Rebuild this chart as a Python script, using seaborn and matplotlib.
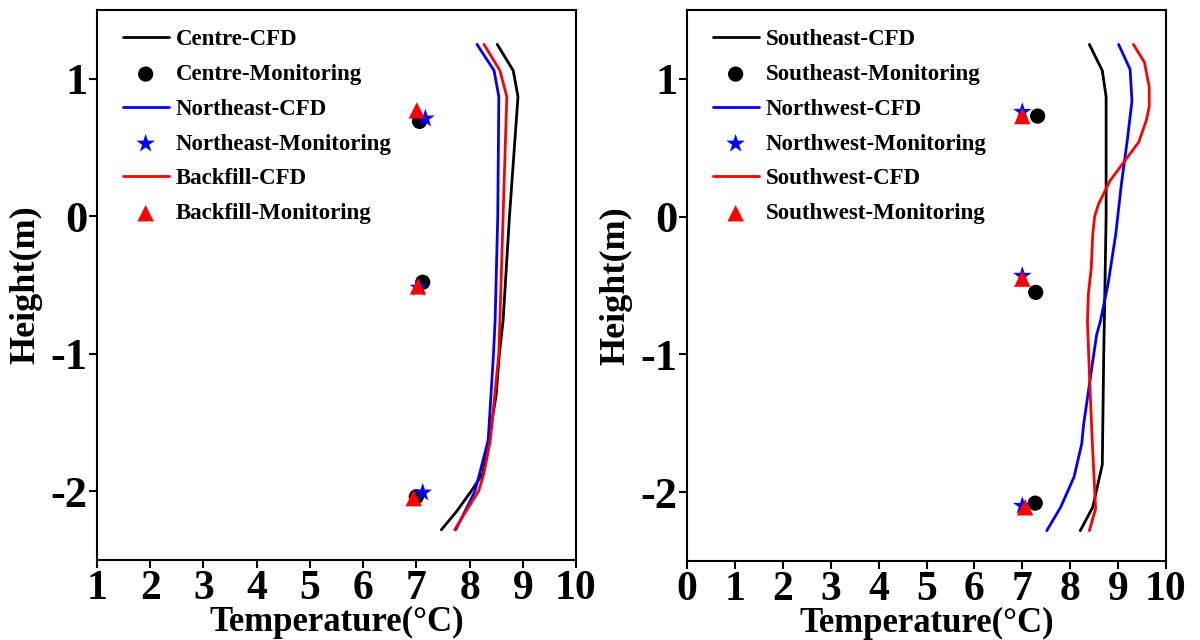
import numpy as np
import pandas as pd
import matplotlib
matplotlib.use("Agg")
import matplotlib.pyplot as plt
import seaborn as sns

sns.set_theme(style="white")
plt.rcParams['font.family'] = ['Liberation Serif', 'DejaVu Serif']
plt.rcParams['font.weight'] = 'bold'
plt.rcParams['text.color'] = 'black'
plt.rcParams['axes.labelcolor'] = 'black'
plt.rcParams['xtick.color'] = 'black'
plt.rcParams['ytick.color'] = 'black'

# ---------------- Left panel data ----------------
centre_cfd_t = [8.52, 8.82, 8.91, 8.75, 8.63, 8.56, 8.50, 8.36, 8.25, 8.03, 7.75, 7.47]
centre_cfd_h = [1.25, 1.06, 0.87, 0.00, -0.76, -1.00, -1.30, -1.63, -1.87, -2.00, -2.15, -2.28]
ne_cfd_t = [8.14, 8.46, 8.55, 8.53, 8.48, 8.45, 8.35, 8.19, 8.10, 7.96, 7.74]
ne_cfd_h = [1.25, 1.06, 0.87, 0.00, -0.76, -1.00, -1.63, -1.87, -2.00, -2.11, -2.28]
bf_cfd_t = [8.27, 8.57, 8.70, 8.63, 8.57, 8.55, 8.39, 8.27, 8.17, 7.99, 7.72]
bf_cfd_h = [1.25, 1.06, 0.87, 0.00, -0.76, -1.00, -1.63, -1.87, -2.00, -2.11, -2.28]

centre_mon_t = [7.06, 7.12, 7.00]
centre_mon_h = [0.69, -0.48, -2.04]
ne_mon_t = [7.17, 7.05, 7.12]
ne_mon_h = [0.71, -0.52, -2.01]
bf_mon_t = [7.01, 7.03, 6.95]
bf_mon_h = [0.77, -0.51, -2.05]

# ---------------- Right panel data ----------------
se_cfd_t = [8.40, 8.67, 8.75, 8.75, 8.72, 8.70, 8.67, 8.47, 8.21]
se_cfd_h = [1.25, 1.06, 0.87, 0.00, -0.61, -1.00, -1.80, -2.11, -2.28]
nw_cfd_t = [9.01, 9.25, 9.29, 9.19, 9.07, 8.95, 8.79, 8.63, 8.55, 8.40, 8.28, 8.24, 8.08, 7.80, 7.51]
nw_cfd_h = [1.25, 1.07, 0.84, 0.55, 0.24, -0.13, -0.49, -0.76, -0.86, -1.22, -1.51, -1.65, -1.89, -2.11, -2.28]
sw_cfd_t = [9.32, 9.55, 9.65, 9.65, 9.59, 9.43, 9.15, 8.83, 8.59, 8.51, 8.47, 8.44, 8.38, 8.36, 8.41, 8.47, 8.53, 8.40]
sw_cfd_h = [1.25, 1.12, 0.94, 0.80, 0.70, 0.54, 0.41, 0.26, 0.09, 0.00, -0.13, -0.37, -0.56, -0.76, -1.22, -1.70, -2.12, -2.28]

se_mon_t = [7.32, 7.28, 7.27]
se_mon_h = [0.73, -0.55, -2.08]
nw_mon_t = [7.00, 7.00, 7.00]
nw_mon_h = [0.76, -0.43, -2.10]
sw_mon_t = [7.00, 7.00, 7.06]
sw_mon_h = [0.73, -0.45, -2.11]

left_xticks = [1, 2, 3, 4, 5, 6, 7, 8, 9, 10]
right_xticks = [0, 1, 2, 3, 4, 5, 6, 7, 8, 9, 10]
yticks = [1, 0, -1, -2]

fig = plt.figure(figsize=(12, 6.4), dpi=100)
axL = fig.add_axes([97/1200, 1 - 560/640, 479/1200, 550/640])
axR = fig.add_axes([687/1200, 1 - 561/640, 479/1200, 551/640])

LW = 2.0


def draw(ax, lines, marks, xlim, xticks):
    for (t, h, color, label), (mt, mh, mcolor, marker, mlabel, msize) in zip(lines, marks):
        sns.lineplot(x=t, y=h, sort=False, estimator=None, color=color,
                     linewidth=LW, ax=ax, label=label)
        sns.scatterplot(x=mt, y=mh, color=mcolor, marker=marker, s=msize,
                        edgecolor='none', ax=ax, label=mlabel, zorder=5)
    hs, ls = ax.get_legend_handles_labels()
    leg = ax.legend(hs, ls, loc='upper left', bbox_to_anchor=(0.025, 0.99), frameon=False,
                    prop={'family': 'Liberation Serif', 'weight': 'bold', 'size': 16.5},
                    handlelength=2.0, labelspacing=0.6, handletextpad=0.3,
                    borderaxespad=0.2)
    for txt in leg.get_texts():
        txt.set_color('black')
    ax.set_xlim(*xlim)
    ax.set_ylim(-2.5, 1.5)
    ax.set_xticks(xticks)
    ax.set_yticks(yticks)
    ax.set_xticklabels([str(v) for v in xticks], fontsize=30, fontweight='bold')
    ax.set_yticklabels([str(v) for v in yticks], fontsize=32, fontweight='bold')
    ax.tick_params(axis='both', direction='out', length=6, width=1.5, color='black',
                   bottom=True, left=True, top=False, right=False, pad=1)
    ax.set_xlabel('Temperature(°C)', fontsize=25, fontweight='bold', labelpad=-1)
    ax.set_ylabel('Height(m)', fontsize=26, fontweight='bold', labelpad=6)
    for sp in ax.spines.values():
        sp.set_color('black')
        sp.set_linewidth(1.5)


draw(axL,
     [(centre_cfd_t, centre_cfd_h, 'black', 'Centre-CFD'),
      (ne_cfd_t, ne_cfd_h, 'blue', 'Northeast-CFD'),
      (bf_cfd_t, bf_cfd_h, 'red', 'Backfill-CFD')],
     [(centre_mon_t, centre_mon_h, 'black', 'o', 'Centre-Monitoring', 120),
      (ne_mon_t, ne_mon_h, 'blue', '*', 'Northeast-Monitoring', 200),
      (bf_mon_t, bf_mon_h, 'red', '^', 'Backfill-Monitoring', 140)],
     (1, 10), left_xticks)

draw(axR,
     [(se_cfd_t, se_cfd_h, 'black', 'Southeast-CFD'),
      (nw_cfd_t, nw_cfd_h, 'blue', 'Northwest-CFD'),
      (sw_cfd_t, sw_cfd_h, 'red', 'Southwest-CFD')],
     [(se_mon_t, se_mon_h, 'black', 'o', 'Southeast-Monitoring', 120),
      (nw_mon_t, nw_mon_h, 'blue', '*', 'Northwest-Monitoring', 200),
      (sw_mon_t, sw_mon_h, 'red', '^', 'Southwest-Monitoring', 140)],
     (0, 10), right_xticks)

fig.savefig('out.png', dpi=100, facecolor='white')
